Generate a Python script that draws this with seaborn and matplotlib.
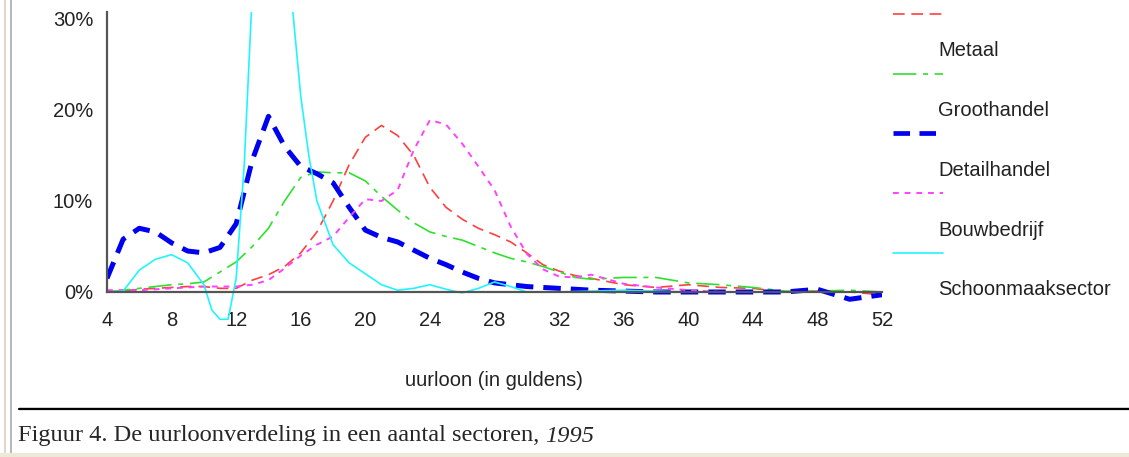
import matplotlib
matplotlib.use("Agg")
import matplotlib.pyplot as plt
from matplotlib.lines import Line2D
from matplotlib.ticker import PercentFormatter
import seaborn as sns

# hourly wage (guilders) and share of workers (%) per sector, 1995
wage = list(range(4, 35)) + [36, 38, 40, 42, 44, 46, 48, 50, 52]

metaal = [0.0, 0.1, 0.3, 0.4, 0.5, 0.6, 0.6, 0.4, 0.4, 1.3, 1.9, 2.8, 4.3, 6.6, 10.0, 14.0,
          17.0, 18.3, 17.2, 15.0, 11.5, 9.3, 8.0, 7.0, 6.3, 5.5, 4.3, 3.0, 2.3, 1.8, 1.5,
          0.8, 0.5, 0.8, 0.5, 0.4, 0.0, 0.1, 0.0, -0.3]
groothandel = [0.0, 0.2, 0.4, 0.6, 0.8, 0.9, 1.1, 2.2, 3.3, 5.0, 7.0, 10.0, 12.6, 13.2, 13.1, 13.1,
               12.2, 10.5, 9.0, 7.6, 6.6, 6.1, 5.7, 5.0, 4.3, 3.7, 3.3, 2.8, 2.2, 1.6, 1.4,
               1.6, 1.6, 1.0, 0.8, 0.5, 0.1, 0.1, 0.2, 0.0]
detailhandel = [1.5, 5.8, 7.0, 6.6, 5.4, 4.5, 4.3, 4.9, 7.5, 14.5, 19.3, 16.0, 13.8, 13.0, 12.0, 9.3,
                6.8, 6.0, 5.5, 4.6, 3.7, 3.0, 2.2, 1.5, 1.0, 0.8, 0.6, 0.5, 0.4, 0.3, 0.2,
                0.1, 0.0, 0.0, 0.0, 0.0, 0.0, 0.3, -0.8, -0.3]
bouwbedrijf = [0.2, 0.2, 0.2, 0.3, 0.4, 0.5, 0.6, 0.6, 0.6, 0.8, 1.3, 2.6, 4.0, 5.2, 6.1, 8.2,
               10.2, 10.0, 11.2, 15.6, 18.9, 18.4, 16.3, 13.8, 11.2, 7.2, 4.2, 2.5, 1.7, 1.6, 1.9,
               0.9, 0.5, 0.2, 0.0, 0.0, 0.0, 0.0, 0.0, 0.0]

wage_schoon = [4, 5, 6, 7, 8, 9, 10, 10.5, 11, 11.5, 12, 12.5, 13, 13.5, 14, 14.5, 15, 15.5, 16,
               16.5, 17, 18, 19, 20, 21, 22, 23, 24, 25, 26, 27, 28, 29, 30, 32, 36, 40, 44, 48, 52]
schoonmaak = [0.0, 0.1, 2.4, 3.6, 4.1, 3.2, 0.8, -2.0, -3.0, -3.0, 1.5, 14.0, 33.0, 40.0, 42.0,
              41.0, 37.0, 31.0, 21.5, 15.0, 10.0, 5.2, 3.2, 2.0, 0.8, 0.2, 0.4, 0.8, 0.3, -0.1,
              0.4, 1.1, 0.6, 0.0, 0.0, 0.2, 0.0, 0.0, 0.0, 0.0]

legend_labels = ["Metaal", "Groothandel", "Detailhandel", "Bouwbedrijf", "Schoonmaaksector"]
x_ticks = list(range(4, 53, 4))
y_ticks = [0, 10, 20, 30]

sns.set_style("white")
plt.rcParams["font.family"] = ["Liberation Sans", "DejaVu Sans"]
FS = 14.5
TXT = "#222222"

W, H = 1129, 457
fig = plt.figure(figsize=(W / 100, H / 100), dpi=100)
ax = fig.add_axes([107 / W, 1 - 328.4 / H, (882 - 107) / W, (328.4 - 11.7) / H])

styles = [
    (metaal, wage, "#ff4040", 1.2, (0, (7, 4))),
    (groothandel, wage, "#2ee02e", 1.2, (0, (14, 4, 3, 4))),
    (detailhandel, wage, "#0000f0", 3.6, (0, (3.5, 2))),
    (bouwbedrijf, wage, "#ff40ff", 1.4, (0, (3, 3))),
    (schoonmaak, wage_schoon, "#22f4ff", 1.2, "-"),
]
for vals, xs, col, lw, ls in styles:
    sns.lineplot(x=xs, y=vals, ax=ax, color=col, linewidth=lw, linestyle=ls, sort=False)

ax.set_xlim(4, 52)
ax.set_ylim(-4, 30.8)
ax.set_xticks(x_ticks)
ax.set_yticks(y_ticks)
ax.yaxis.set_major_formatter(PercentFormatter(xmax=100, decimals=0))
for s in ["top", "right"]:
    ax.spines[s].set_visible(False)
ax.spines["bottom"].set_position(("data", 0))
ax.spines["bottom"].set_bounds(4, 52)
ax.spines["left"].set_bounds(0, 30.8)
for s in ["bottom", "left"]:
    ax.spines[s].set_color("#555555")
    ax.spines[s].set_linewidth(1.6)
ax.tick_params(axis="x", direction="inout", length=6, width=2.6, color="black",
               pad=11, labelsize=FS, labelcolor=TXT)
ax.tick_params(axis="y", direction="out", length=3, width=2.6, color="black",
               pad=7, labelsize=FS, labelcolor=TXT)
ax.set_xlabel("")
ax.set_ylabel("")
ax.patch.set_alpha(0)

fig.text(494 / W, 1 - 381 / H, "uurloon (in guldens)", ha="center", va="center",
         fontsize=FS, color=TXT)

# legend: sample line above its label
for i, (_, _, col, lw, ls) in enumerate(styles):
    ly = 14 + i * 59.7
    fig.add_artist(Line2D([893 / W, 943 / W], [1 - ly / H, 1 - ly / H], color=col,
                          linewidth=lw if lw < 3 else 3.4, linestyle=ls))
    fig.text(938 / W, 1 - (ly + 37) / H, legend_labels[i], ha="left", va="center",
             fontsize=FS, color=TXT)

# page frame and caption
fig.add_artist(Line2D([5 / W, 5 / W], [0, 1], color="#ddd8c8", linewidth=1.5))
fig.add_artist(Line2D([11 / W, 11 / W], [4 / H, 1], color="#aaaaaa", linewidth=1.2))
fig.add_artist(Line2D([0, 1], [2 / H, 2 / H], color="#ece9d8", linewidth=3))
fig.add_artist(Line2D([19 / W, 1], [1 - 409 / H, 1 - 409 / H], color="black", linewidth=1.6))
fig.add_artist(Line2D([19 / W, 1], [1 - 407 / H, 1 - 407 / H], color="#cccccc", linewidth=0.6))
serif = ["Liberation Serif", "DejaVu Serif"]
cap = fig.text(18 / W, 1 - 436 / H, "Figuur 4. De uurloonverdeling in een aantal sectoren, ",
               ha="left", va="center", fontsize=17.6, family=serif)
fig.canvas.draw()
bb = cap.get_window_extent()
fig.text(bb.x1 / W, 1 - 436 / H, "1995", ha="left", va="center", fontsize=17.6,
         style="italic", family=serif)

fig.savefig("out.png", dpi=100)
